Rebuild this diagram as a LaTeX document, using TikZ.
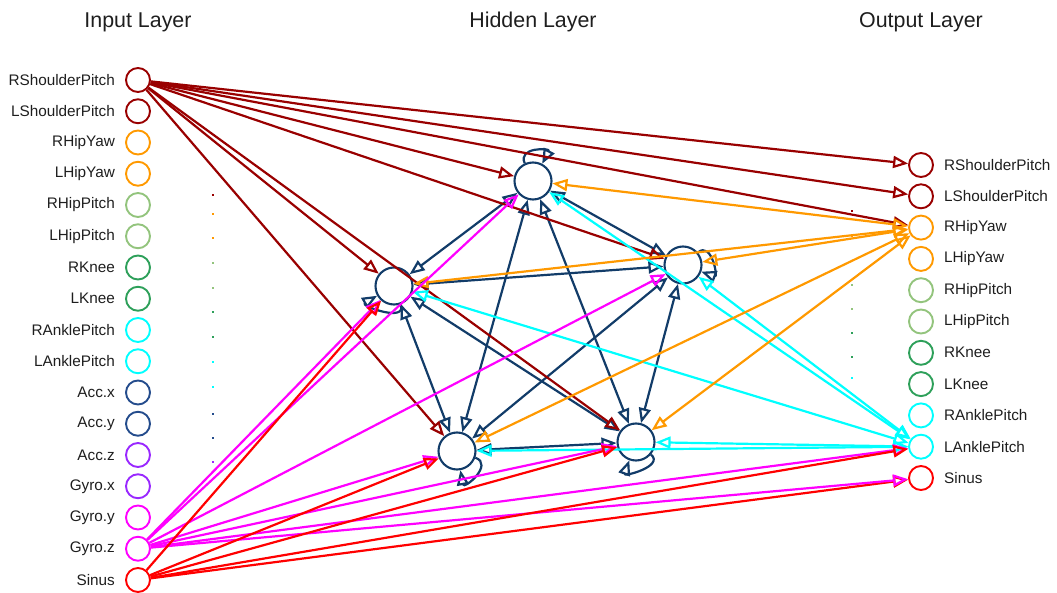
\documentclass[tikz,border=0pt]{standalone}
\usepackage{fontspec}
\setmainfont{Liberation Sans}
\usepackage{tikz}
\usetikzlibrary{
  arrows.meta,
  positioning
}
\definecolor{shouldercolor}{RGB}{153, 0, 0}
\definecolor{hipyawcolor}{RGB}{255, 153, 0}
\definecolor{hippitchcolor}{RGB}{147, 196, 125}
\definecolor{kneecolor}{RGB}{46, 160, 90}
\definecolor{anklecolor}{RGB}{0, 255, 255}
\definecolor{acccolor}{RGB}{36, 76, 140}
\definecolor{purplecolor}{RGB}{153, 40, 255}
\definecolor{gyrocolor}{RGB}{255, 0, 255}
\definecolor{sinuscolor}{RGB}{255, 0, 0}
\definecolor{hiddencolor}{RGB}{18, 60, 105}
\definecolor{labelcolor}{RGB}{30, 30, 30}
\tikzset{
neuron/.style={
  circle,
  draw=#1,
  line width=1.9pt,
  minimum size=24pt,
  inner sep=0pt
},
hiddenneuron/.style={
  circle,
  draw=hiddencolor,
  line width=2.1pt,
  minimum size=37pt,
  inner sep=0pt
},
inlabel/.style={
  font=\fontsize{15.3}{18}\selectfont,
  text=labelcolor,
  inner sep=1pt,
  anchor=east
},
outlabel/.style={
  font=\fontsize{15.3}{18}\selectfont,
  text=labelcolor,
  inner sep=1pt,
  anchor=west
},
layertitle/.style={
  font=\fontsize{21.4}{25}\selectfont,
  text=labelcolor,
  align=center
},
tinydot/.style={
  rectangle,
  fill=#1,
  inner sep=0pt,
  minimum size=2.5pt
},
conn/.style={
  -{Triangle[open,length=15pt,width=12pt]},
  line width=2.2pt
},
biconn/.style={
  {Triangle[open,length=15pt,width=12pt]}-{Triangle[open,length=15pt,width=12pt]},
  line width=2.2pt
}
}

\begin{document}
\begin{tikzpicture}[x=1pt, y=1pt]
  \useasboundingbox (0,0) rectangle (1057,592);

  % layer titles
  \node[layertitle] (tin) at (138,570) {Input Layer};
  \node[layertitle] (thid) at (533,570) {Hidden Layer};
  \node[layertitle] (tout) at (921,570) {Output Layer};

  % input layer
  \foreach \lab/\col [count=\i] in {RShoulderPitch/shouldercolor, LShoulderPitch/shouldercolor,
      RHipYaw/hipyawcolor, LHipYaw/hipyawcolor, RHipPitch/hippitchcolor, LHipPitch/hippitchcolor,
      RKnee/kneecolor, LKnee/kneecolor, RAnklePitch/anklecolor, LAnklePitch/anklecolor,
      Acc.x/acccolor, Acc.y/acccolor, Acc.z/purplecolor, Gyro.x/purplecolor,
      Gyro.y/gyrocolor, Gyro.z/gyrocolor, Sinus/sinuscolor} {
    \node[neuron=\col] (in\i) at (138,{512-31.25*(\i-1)}) {};
    \node[inlabel, left=9pt of in\i] (inl\i) {\lab};
  }

  % output layer
  \foreach \lab/\col [count=\i] in {RShoulderPitch/shouldercolor, LShoulderPitch/shouldercolor,
      RHipYaw/hipyawcolor, LHipYaw/hipyawcolor, RHipPitch/hippitchcolor, LHipPitch/hippitchcolor,
      RKnee/kneecolor, LKnee/kneecolor, RAnklePitch/anklecolor, LAnklePitch/anklecolor,
      Sinus/sinuscolor} {
    \node[neuron=\col] (out\i) at (921,{427-31.3*(\i-1)}) {};
    \node[outlabel, right=9pt of out\i] (outl\i) {\lab};
  }

  % hidden layer
  \node[hiddenneuron] (h1) at (533,411) {};
  \node[hiddenneuron] (h2) at (683,327) {};
  \node[hiddenneuron] (h3) at (394,306) {};
  \node[hiddenneuron] (h4) at (457,141) {};
  \node[hiddenneuron] (h5) at (636,150) {};

  % stray points
  \foreach \yy/\col [count=\i] in {397/shouldercolor, 378/hipyawcolor, 354/hipyawcolor,
      329/hippitchcolor, 304/hippitchcolor, 280/kneecolor, 255/kneecolor, 230/anklecolor,
      205/anklecolor, 178/acccolor, 154/acccolor, 130/purplecolor}
    \node[tinydot=\col] (dl\i) at (213,\yy) {};
  \foreach \yy/\col [count=\i] in {381/shouldercolor, 356/hipyawcolor, 307/hippitchcolor,
      283/hippitchcolor, 259/kneecolor, 235/kneecolor, 214/anklecolor}
    \node[tinydot=\col] (dr\i) at (852,\yy) {};

  % hidden to hidden
  \foreach \a/\b in {h1/h2, h1/h3, h1/h4, h1/h5, h2/h3, h2/h4, h2/h5, h3/h4, h3/h5, h4/h5}
    \draw[biconn, hiddencolor] (\a) -- (\b);
  \draw[conn, hiddencolor] (h1) to[out=115, in=62, min distance=18pt] (h1);
  \draw[conn, hiddencolor] (h2) to[out=40, in=-20, min distance=18pt] (h2);
  \draw[conn, hiddencolor] (h3) to[out=-70, in=210, min distance=20pt] (h3);
  \draw[conn, hiddencolor] (h4) to[out=-20, in=-80, min distance=20pt] (h4);
  \draw[conn, hiddencolor] (h5) to[out=-40, in=-110, min distance=18pt] (h5);

  % RShoulderPitch
  \foreach \dst in {h1, h2, h3, h4, h5, out1, out2, out3}
    \draw[conn, shouldercolor] (in1) -- (\dst);

  % RHipYaw and LAnklePitch outputs
  \foreach \dst in {h1, h2, h3, h4, h5}
    \draw[biconn, anklecolor] (out10) -- (\dst);
  \foreach \dst in {h1, h2, h3, h4, h5}
    \draw[biconn, hipyawcolor] (out3) -- (\dst);

  % Gyro.z and Sinus
  \draw[conn, sinuscolor] (in17) -- (out11);
  \foreach \dst in {h1, h2, h3, h4, h5, out10, out11}
    \draw[conn, gyrocolor] (in16) -- (\dst);
  \foreach \dst in {h3, h4, h5, out10}
    \draw[conn, sinuscolor] (in17) -- (\dst);
\end{tikzpicture}
\end{document}
